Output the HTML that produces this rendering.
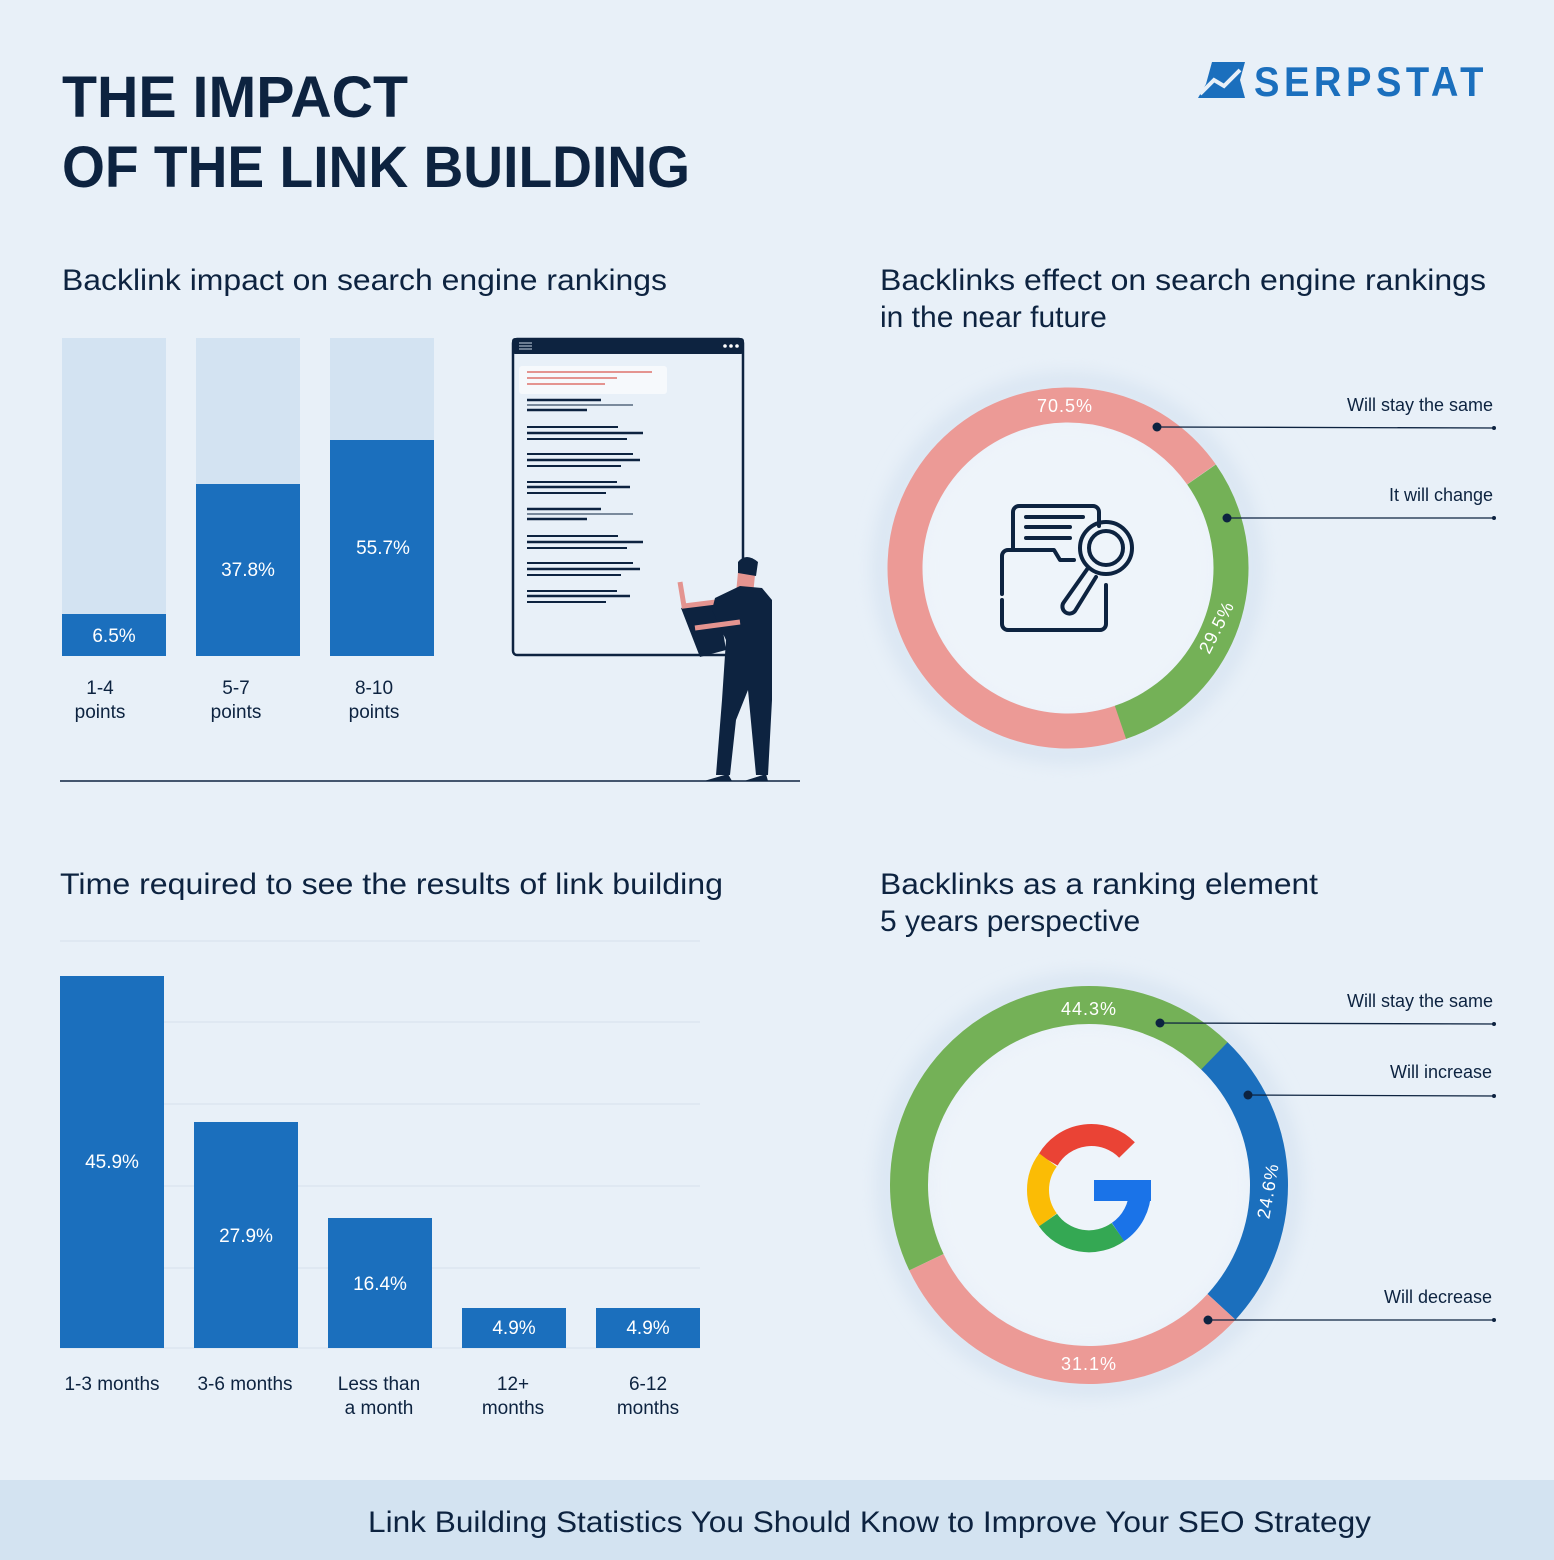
<!DOCTYPE html>
<html><head><meta charset="utf-8"><style>
html,body{margin:0;padding:0;background:#e8f0f8;}
svg{display:block;font-family:"Liberation Sans",Arial,sans-serif;}
</style></head><body>
<svg width="1554" height="1560" viewBox="0 0 1554 1560" xmlns="http://www.w3.org/2000/svg">
<defs>
<filter id="glow" x="-30%" y="-30%" width="160%" height="160%"><feGaussianBlur stdDeviation="10"/></filter>
</defs>
<rect width="1554" height="1560" fill="#e8f0f8"/>
<!-- Title -->
<text x="62" y="117" font-size="58" font-weight="bold" fill="#0d2340" textLength="346" lengthAdjust="spacingAndGlyphs">THE IMPACT</text>
<text x="62" y="187" font-size="58" font-weight="bold" fill="#0d2340" textLength="628" lengthAdjust="spacingAndGlyphs">OF THE LINK BUILDING</text>
<!-- Logo -->
<g fill="#1b6fbd">
<polygon points="1212,62 1245,62 1240,80 1245,98 1198,98 1206,84"/>
<polyline points="1200,94 1214,80 1224,86 1240,70" fill="none" stroke="#e8f0f8" stroke-width="4"/>
<text x="1254" y="96" font-size="42" font-weight="bold" letter-spacing="5" textLength="234" lengthAdjust="spacingAndGlyphs">SERPSTAT</text>
</g>
<!-- Section titles -->
<g font-size="30" fill="#0d2340">
<text x="62" y="290" textLength="605" lengthAdjust="spacingAndGlyphs">Backlink impact on search engine rankings</text>
<text x="880" y="290" textLength="606" lengthAdjust="spacingAndGlyphs">Backlinks effect on search engine rankings</text>
<text x="880" y="327">in the near future</text>
<text x="60" y="894" textLength="663" lengthAdjust="spacingAndGlyphs">Time required to see the results of link building</text>
<text x="880" y="894" textLength="438" lengthAdjust="spacingAndGlyphs">Backlinks as a ranking element</text>
<text x="880" y="931">5 years perspective</text>
</g>
<!-- Top bar chart -->
<g>
<rect x="62" y="338" width="104" height="318" fill="#d3e3f2"/>
<rect x="196" y="338" width="104" height="318" fill="#d3e3f2"/>
<rect x="330" y="338" width="104" height="318" fill="#d3e3f2"/>
<rect x="62" y="614" width="104" height="42" fill="#1b6fbd"/>
<rect x="196" y="484" width="104" height="172" fill="#1b6fbd"/>
<rect x="330" y="440" width="104" height="216" fill="#1b6fbd"/>
<g fill="#fff" font-size="19" text-anchor="middle">
<text x="114" y="642">6.5%</text><text x="248" y="576">37.8%</text><text x="383" y="554">55.7%</text>
</g>
<g fill="#0d2340" font-size="19" text-anchor="middle">
<text x="100" y="694">1-4</text><text x="100" y="718">points</text>
<text x="236" y="694">5-7</text><text x="236" y="718">points</text>
<text x="374" y="694">8-10</text><text x="374" y="718">points</text>
</g>
<line x1="60" y1="781" x2="800" y2="781" stroke="#0d2340" stroke-width="1.5"/>
</g>
<!-- Browser illustration -->
<g>
<rect x="513" y="339" width="230" height="316" rx="4" fill="#e8f0f8" stroke="#0d2340" stroke-width="2.5"/>
<rect x="512" y="338" width="232" height="16" rx="3" fill="#0d2340"/>
<g stroke="#c9d6e3" stroke-width="1"><line x1="519" y1="343" x2="532" y2="343"/><line x1="519" y1="346" x2="532" y2="346"/><line x1="519" y1="349" x2="532" y2="349"/></g>
<circle cx="725" cy="346" r="1.8" fill="#fff"/><circle cx="731" cy="346" r="1.8" fill="#fff"/><circle cx="737" cy="346" r="1.8" fill="#fff"/>
<rect x="519" y="366" width="148" height="28" rx="3" fill="#f6f9fc"/>
<g stroke="#e49490" stroke-width="2"><line x1="527" y1="372" x2="652" y2="372"/><line x1="527" y1="378" x2="617" y2="378"/><line x1="527" y1="384" x2="605" y2="384"/></g>
<g stroke="#0d2340">
<g id="blk"><line x1="527" y1="400" x2="601" y2="400" stroke-width="2.5"/><line x1="527" y1="405" x2="633" y2="405" stroke-width="1"/><line x1="527" y1="410" x2="587" y2="410" stroke-width="2.5"/></g>
<g id="blk2"><line x1="527" y1="427" x2="618" y2="427" stroke-width="2"/><line x1="527" y1="433" x2="643" y2="433" stroke-width="2.5"/><line x1="527" y1="439" x2="627" y2="439" stroke-width="2"/></g>
<g id="blk3"><line x1="527" y1="454" x2="633" y2="454" stroke-width="2"/><line x1="527" y1="460" x2="640" y2="460" stroke-width="2.5"/><line x1="527" y1="466" x2="621" y2="466" stroke-width="2"/></g>
<g id="blk4"><line x1="527" y1="482" x2="617" y2="482" stroke-width="2"/><line x1="527" y1="487" x2="630" y2="487" stroke-width="2.5"/><line x1="527" y1="493" x2="606" y2="493" stroke-width="2"/></g>
<use href="#blk" y="109"/><use href="#blk2" y="109"/><use href="#blk3" y="109"/><use href="#blk4" y="109"/>
</g>
<!-- person -->
<polygon points="681,608 718,600 726,650 700,657" fill="#0d2340"/>
<path d="M680,582 L684,606 L716,602" fill="none" stroke="#e49490" stroke-width="5"/>
<path d="M735,604 L752,605 L755,575 L738,572 Z" fill="#e49490"/>
<path d="M738,562 q8,-10 20,0 l-2,14 l-18,-3z" fill="#0d2340"/>
<path d="M715,598 L740,586 L762,588 L772,600 L772,700 L768,775 L756,775 L748,690 L736,720 L730,775 L716,775 L722,700 L726,640 L712,610 Z" fill="#0d2340"/>
<path d="M695,628 L740,622" stroke="#e49490" stroke-width="5"/>
<path d="M704,781 L728,774 L732,781Z M744,781 L766,774 L768,781Z" fill="#0d2340"/>
</g>
<!-- Bottom bar chart -->
<g stroke="#d9e4ef" stroke-width="1.2">
<line x1="60" y1="941" x2="700" y2="941"/><line x1="60" y1="1022" x2="700" y2="1022"/><line x1="60" y1="1104" x2="700" y2="1104"/><line x1="60" y1="1186" x2="700" y2="1186"/><line x1="60" y1="1268" x2="700" y2="1268"/><line x1="60" y1="1348" x2="700" y2="1348"/>
</g>
<g fill="#1b6fbd">
<rect x="60" y="976" width="104" height="372"/>
<rect x="194" y="1122" width="104" height="226"/>
<rect x="328" y="1218" width="104" height="130"/>
<rect x="462" y="1308" width="104" height="40"/>
<rect x="596" y="1308" width="104" height="40"/>
</g>
<g fill="#fff" font-size="19" text-anchor="middle">
<text x="112" y="1168">45.9%</text><text x="246" y="1242">27.9%</text><text x="380" y="1290">16.4%</text><text x="514" y="1334">4.9%</text><text x="648" y="1334">4.9%</text>
</g>
<g fill="#0d2340" font-size="19" text-anchor="middle">
<text x="112" y="1390">1-3 months</text><text x="245" y="1390">3-6 months</text>
<text x="379" y="1390">Less than</text><text x="379" y="1414">a month</text>
<text x="513" y="1390">12+</text><text x="513" y="1414">months</text>
<text x="648" y="1390">6-12</text><text x="648" y="1414">months</text>
</g>
<!-- Donut 1 -->
<circle cx="1068" cy="568" r="150" fill="#f0f5fb" filter="url(#glow)" opacity="0.8"/>
<circle cx="1068" cy="568" r="185" fill="none" stroke="#cfdeee" stroke-width="12" filter="url(#glow)"/>
<circle cx="1068" cy="568" r="163" fill="none" stroke="#ec9a96" stroke-width="35" stroke-dasharray="722.1 2000" transform="rotate(71 1068 568)"/>
<circle cx="1068" cy="568" r="163" fill="none" stroke="#74b157" stroke-width="35" stroke-dasharray="302.1 2000" transform="rotate(-35 1068 568)"/>
<text x="1065" y="412" fill="#fff" font-size="18" text-anchor="middle" letter-spacing="1">70.5%</text>
<text x="0" y="0" fill="#fff" font-size="18" text-anchor="middle" letter-spacing="1" transform="translate(1222,630) rotate(-63)">29.5%</text>
<!-- folder icon -->
<g fill="none" stroke="#0d2340" stroke-width="4" stroke-linejoin="round" stroke-linecap="round">
<path d="M1013,548 V512 a6,6 0 0 1 6,-6 h74 a6,6 0 0 1 6,6 v14"/>
<path d="M1026,517 H1083 M1026,527 H1070 M1026,538 H1070"/>
<path d="M1002,594 V556 a6,6 0 0 1 6,-6 h46 l6,10 h14"/>
<path d="M1002,600 V624 a6,6 0 0 0 6,6 h92 a6,6 0 0 0 6,-6 V585"/>
<circle cx="1106" cy="548" r="26"/><circle cx="1106" cy="548" r="17"/>
<path d="M1088,568 L1064,602 a7,7 0 0 0 11,9 L1096,577"/>
</g>
<!-- leaders 1 -->
<g stroke="#0d2340" stroke-width="1.3"><line x1="1157" y1="427" x2="1495" y2="428"/><line x1="1227" y1="518" x2="1495" y2="518"/></g>
<g fill="#0d2340"><circle cx="1157" cy="427" r="4.5"/><circle cx="1227" cy="518" r="4.5"/><circle cx="1494" cy="428" r="2"/><circle cx="1494" cy="518" r="2"/></g>
<g fill="#0d2340" font-size="18" text-anchor="end">
<text x="1493" y="411">Will stay the same</text><text x="1493" y="501">It will change</text>
<text x="1493" y="1007">Will stay the same</text><text x="1492" y="1078">Will increase</text><text x="1492" y="1303">Will decrease</text>
</g>
<!-- Donut 2 -->
<circle cx="1089" cy="1185" r="160" fill="#f0f5fb" filter="url(#glow)" opacity="0.8"/>
<circle cx="1089" cy="1185" r="202" fill="none" stroke="#cfdeee" stroke-width="12" filter="url(#glow)"/>
<circle cx="1089" cy="1185" r="180" fill="none" stroke="#1b6fbd" stroke-width="38" stroke-dasharray="278.2 2000" transform="rotate(-46 1089 1185)"/>
<circle cx="1089" cy="1185" r="180" fill="none" stroke="#ec9a96" stroke-width="38" stroke-dasharray="351.7 2000" transform="rotate(42.6 1089 1185)"/>
<circle cx="1089" cy="1185" r="180" fill="none" stroke="#74b157" stroke-width="38" stroke-dasharray="501 2000" transform="rotate(154.6 1089 1185)"/>
<text x="1089" y="1015" fill="#fff" font-size="18" text-anchor="middle" letter-spacing="1">44.3%</text>
<text x="1089" y="1370" fill="#fff" font-size="18" text-anchor="middle" letter-spacing="1">31.1%</text>
<text x="0" y="0" fill="#fff" font-size="18" text-anchor="middle" letter-spacing="1" transform="translate(1274,1192) rotate(-80)">24.6%</text>
<!-- Google G -->
<g fill="none" stroke-width="22">
<path d="M1127,1150 A50,50 0 0 0 1048,1160" stroke="#ea4335"/>
<path d="M1048,1160 A50,50 0 0 0 1048,1220" stroke="#fbbc05"/>
<path d="M1048,1220 A50,50 0 0 0 1118,1232" stroke="#34a853"/>
<path d="M1118,1232 A50,50 0 0 0 1140,1190" stroke="#1a73e8"/>
</g>
<rect x="1094" y="1180" width="57" height="21" fill="#1a73e8"/>
<g stroke="#0d2340" stroke-width="1.3"><line x1="1160" y1="1023" x2="1495" y2="1024"/><line x1="1248" y1="1095" x2="1495" y2="1096"/><line x1="1208" y1="1320" x2="1495" y2="1320"/></g>
<g fill="#0d2340"><circle cx="1160" cy="1023" r="4.5"/><circle cx="1248" cy="1095" r="4.5"/><circle cx="1208" cy="1320" r="4.5"/><circle cx="1494" cy="1024" r="2"/><circle cx="1494" cy="1096" r="2"/><circle cx="1494" cy="1320" r="2"/></g>
<!-- Footer -->
<rect x="0" y="1480" width="1554" height="80" fill="#d3e3f1"/>
<text x="368" y="1532" font-size="30" fill="#0d2340" textLength="1003" lengthAdjust="spacingAndGlyphs">Link Building Statistics You Should Know to Improve Your SEO Strategy</text>
</svg>
</body></html>
